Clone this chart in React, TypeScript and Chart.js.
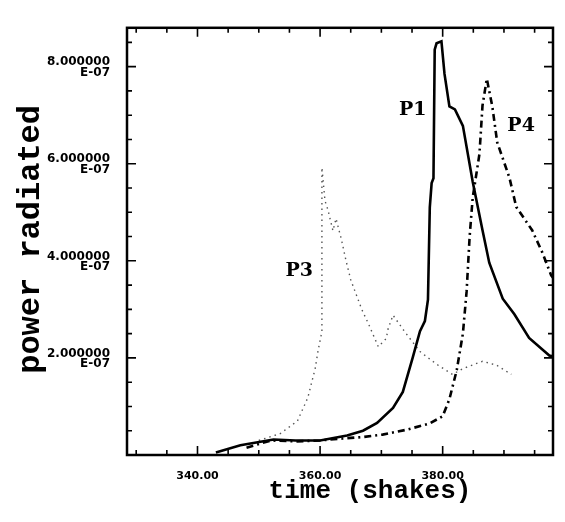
import React, { useEffect, useRef } from "react";
import { Chart, registerables } from "chart.js";
Chart.register(...registerables);

// time in shakes, power in units of 1e-7
const p1Time = [343, 347, 352.4, 356, 360, 364.4, 367, 369.3, 371.9, 373.5, 375.1, 376.3, 377.1, 377.6, 377.9, 378.2, 378.5, 378.7, 379.0, 379.8, 380.3, 381.1, 382.0, 383.3, 384.9, 386.5, 387.6, 389.8, 391.7, 394.1, 397.4, 398];
const p1Power = [0.05, 0.2, 0.32, 0.3, 0.3, 0.4, 0.5, 0.66, 0.97, 1.3, 2.0, 2.55, 2.76, 3.2, 5.1, 5.6, 5.7, 8.35, 8.48, 8.52, 7.85, 7.18, 7.12, 6.78, 5.63, 4.63, 3.96, 3.22, 2.9, 2.41, 2.05, 2.03];

const p4Time = [348, 352, 356, 360, 363.7, 367, 370.2, 374.1, 377.9, 380, 381.1, 382.3, 383.3, 383.9, 384.4, 384.9, 386.0, 386.5, 387.2, 388.1, 388.9, 390.9, 392.0, 394.6, 396.3, 397.7, 398];
const p4Power = [0.15, 0.3, 0.28, 0.3, 0.34, 0.37, 0.42, 0.52, 0.65, 0.8, 1.15, 1.75, 2.5, 3.36, 4.5, 5.3, 6.2, 7.2, 7.75, 7.18, 6.44, 5.71, 5.11, 4.63, 4.16, 3.7, 3.65];

const p3Time = [350, 353.5, 356.3, 358, 359.2, 359.7, 360.3, 360.3, 360.8, 361.3, 362.1, 362.6, 363.5, 364.2, 365.0, 366.8, 367.9, 369.5, 370.8, 371.1, 371.9, 373.8, 376.3, 379, 381.6, 383.3, 386.5, 388.8, 391.2];
const p3Power = [0.3, 0.44, 0.7, 1.18, 1.78, 2.17, 2.54, 5.92, 5.24, 5.04, 4.62, 4.87, 4.43, 4.02, 3.61, 3.0, 2.7, 2.23, 2.4, 2.6, 2.88, 2.54, 2.13, 1.87, 1.66, 1.78, 1.93, 1.85, 1.66];

const xTickValues = [340, 360, 380];
const yTickValues = [2, 4, 6, 8];
const xMinorTicks = [330, 335, 340, 345, 350, 355, 360, 365, 370, 375, 380, 385, 390, 395];
const yMinorTicks = [0.5, 1, 1.5, 2, 2.5, 3, 3.5, 4, 4.5, 5, 5.5, 6, 6.5, 7, 7.5, 8, 8.5];

const curveLabels = ["P1", "P3", "P4"];
const curveLabelTime = [375.1, 356.6, 392.8];
const curveLabelPower = [7.1, 3.78, 6.78];

const xTitle = "time (shakes)";
const yTitle = "power radiated";

const E = 1e-7;
const toPts = (t: number[], v: number[]) => t.map((x, i) => ({ x, y: v[i] * E }));

export default function App() {
  const ref = useRef<HTMLCanvasElement | null>(null);
  useEffect(() => {
    if (!ref.current) return;
    const framePlugin = {
      id: "frame",
      afterDatasetsDraw(chart: any) {
        const { ctx, chartArea: a, scales } = chart;
        const x = scales.x, y = scales.y;
        ctx.save();
        ctx.strokeStyle = "#000";
        ctx.lineWidth = 2.5;
        ctx.strokeRect(a.left, a.top, a.right - a.left, a.bottom - a.top);
        ctx.lineWidth = 1.6;
        ctx.beginPath();
        xMinorTicks.forEach((t) => {
          const px = x.getPixelForValue(t);
          const len = xTickValues.includes(t) ? 9 : 5;
          ctx.moveTo(px, a.bottom); ctx.lineTo(px, a.bottom - len);
          ctx.moveTo(px, a.top); ctx.lineTo(px, a.top + len);
        });
        yMinorTicks.forEach((v) => {
          const py = y.getPixelForValue(v * E);
          const len = yTickValues.includes(v) ? 9 : 5;
          ctx.moveTo(a.left, py); ctx.lineTo(a.left + len, py);
          ctx.moveTo(a.right, py); ctx.lineTo(a.right - len, py);
        });
        ctx.stroke();
        ctx.fillStyle = "#000";
        ctx.textAlign = "center";
        ctx.textBaseline = "middle";
        ctx.font = 'bold 26px "Liberation Mono"';
        ctx.fillText(xTitle, (a.left + a.right) / 2 + 30, a.bottom + 36);
        ctx.save();
        ctx.translate(31, (a.top + a.bottom) / 2 - 2);
        ctx.rotate(-Math.PI / 2);
        ctx.font = 'bold 32px "Liberation Mono"';
        ctx.fillText(yTitle, 0, 0);
        ctx.restore();
        ctx.font = 'bold 19px "DejaVu Serif"';
        curveLabels.forEach((s, i) => {
          ctx.fillText(s, x.getPixelForValue(curveLabelTime[i]), y.getPixelForValue(curveLabelPower[i] * E));
        });
        ctx.restore();
      },
    };
    const chart = new Chart(ref.current, {
      type: "line",
      data: {
        datasets: [
          { label: "P1", data: toPts(p1Time, p1Power), borderColor: "#000", borderWidth: 2.6, pointRadius: 0, tension: 0 },
          { label: "P4", data: toPts(p4Time, p4Power), borderColor: "#000", borderWidth: 2.6, borderDash: [7, 4, 2, 4], pointRadius: 0, tension: 0 },
          { label: "P3", data: toPts(p3Time, p3Power), borderColor: "#555", borderWidth: 1.4, borderDash: [1.5, 4], pointRadius: 0, tension: 0 },
        ],
      },
      options: {
        animation: false,
        responsive: true,
        maintainAspectRatio: false,
        layout: { padding: { top: 21, right: 12, left: 0, bottom: 0 } },
        plugins: { legend: { display: false }, tooltip: { enabled: false } },
        scales: {
          x: {
            type: "linear",
            min: 328.5,
            max: 398,
            grid: { display: false, drawTicks: false },
            border: { display: false },
            afterBuildTicks: (s: any) => { s.ticks = xTickValues.map((v) => ({ value: v })); },
            afterFit: (s: any) => { s.height = 67; },
            ticks: {
              color: "#000",
              padding: 15,
              maxRotation: 0,
              font: { family: "DejaVu Sans", weight: "bold", size: 11 },
              callback: (v: any) => Number(v).toFixed(2),
            },
          },
          y: {
            type: "linear",
            min: 0,
            max: 8.8 * E,
            grid: { display: false, drawTicks: false },
            border: { display: false },
            afterBuildTicks: (s: any) => { s.ticks = yTickValues.map((v) => ({ value: v * E })); },
            afterFit: (s: any) => { s.width = 127; },
            ticks: {
              color: "#000",
              padding: 17,
              labelOffset: 1,
              font: { family: "DejaVu Sans", weight: "bold", size: 12, lineHeight: 0.9 },
              callback: (v: any) => [(Number(v) / E).toFixed(6), "E-07"],
            },
          },
        },
      },
      plugins: [framePlugin],
    } as any);
    return () => chart.destroy();
  }, []);
  return (
    <div style={{ position: "absolute", left: 0, top: 0, width: 565, height: 522, background: "#fff" }}>
      <canvas ref={ref} />
    </div>
  );
}
